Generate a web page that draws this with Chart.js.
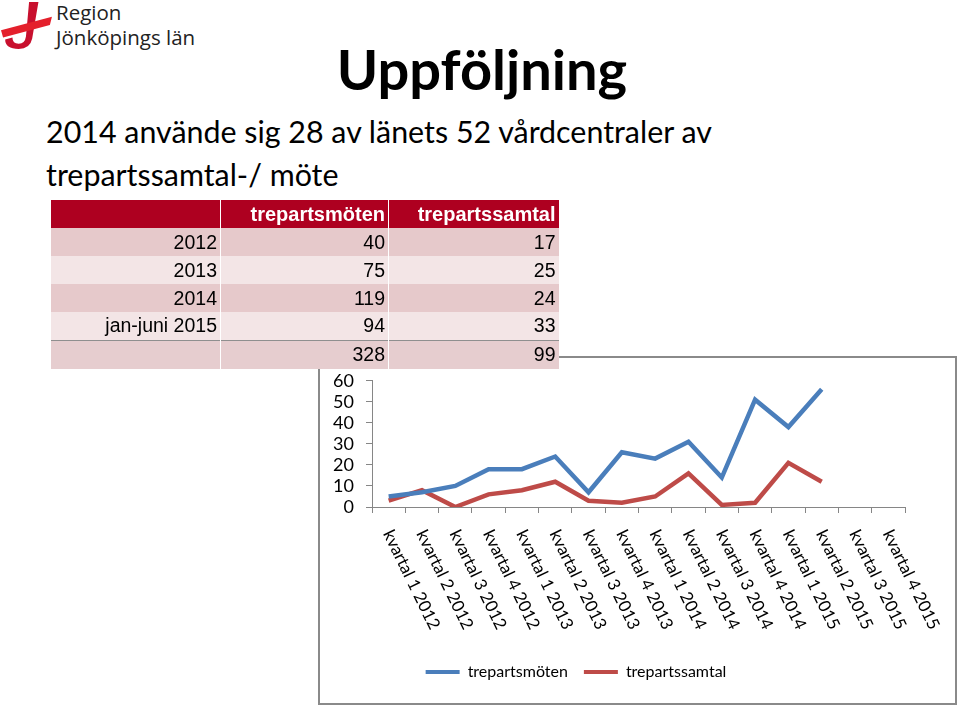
<!DOCTYPE html>
<html lang="sv">
<head>
<meta charset="utf-8">
<title>Uppföljning</title>
<script src="https://cdn.jsdelivr.net/npm/chart.js@4/dist/chart.umd.min.js"></script>
<style>
  html, body { margin: 0; padding: 0; background: #fff; }
  body { width: 960px; height: 706px; position: relative; overflow: hidden; font-family: Lato, sans-serif; color: #000; }
  .logo { position: absolute; left: 1px; top: 1px; width: 52px; height: 50px; }
  .logo-text { position: absolute; left: 56px; top: 0px; font-family: "Open Sans", sans-serif; font-size: 20.5px; line-height: 25px; color: #222; }
  h1 { position: absolute; left: 0; width: 964px; top: 41px; margin: 0; text-align: center; font-size: 56px; line-height: 56px; font-weight: 700; }
  .lead { position: absolute; left: 46px; top: 110px; margin: 0; font-size: 30.4px; line-height: 43px; width: 760px; }
  table { position: absolute; left: 50px; top: 200px; border-collapse: collapse; font-family: "Liberation Sans", Arial, sans-serif; font-size: 19.5px; z-index: 2; }
  td, th { height: 28px; padding: 0 3px; text-align: right; border-left: 1px solid #fff; box-sizing: border-box; }
  th { background: #ae0020; color: #fff; font-weight: 700; font-size: 20px; }
  tr.a td { background: #e6c9cb; }
  tr.b td { background: #f3e5e6; }
  tr.total td { background: #e6cdcf; border-top: 1px solid #8f8f8f; height: 29px; }
  .box { position: absolute; left: 318px; top: 356px; width: 635px; height: 345px; border: 2px solid #8a8a8a; background: #fff; }
  .box div { position: relative; width: 635px; height: 345px; }
</style>
</head>
<body>
<svg class="logo" viewBox="0 0 50 48">
  <path d="M27 1 L36 1 L30 36 Q28 46 17 46 Q4 46 4 37 L11 35 Q11 41 17 41 Q23 41 24 34 Z" fill="#c8102e"/>
  <path d="M0 28 L49 15 L47 23 L2 35 Z" fill="#e4202c"/>
</svg>
<div class="logo-text">Region<br>Jönköpings län</div>

<h1>Uppföljning</h1>
<p class="lead">2014 använde sig 28 av länets 52 vårdcentraler av<br>trepartssamtal-/ möte</p>

<table id="tbl"></table>

<div class="box"><div><canvas id="myChart"></canvas></div></div>

<script>
const categories = [
  'kvartal 1 2012', 'kvartal 2 2012', 'kvartal 3 2012', 'kvartal 4 2012',
  'kvartal 1 2013', 'kvartal 2 2013', 'kvartal 3 2013', 'kvartal 4 2013',
  'kvartal 1 2014', 'kvartal 2 2014', 'kvartal 3 2014', 'kvartal 4 2014',
  'kvartal 1 2015', 'kvartal 2 2015', 'kvartal 3 2015', 'kvartal 4 2015'
];
const moten = [5, 7, 10, 18, 18, 24, 7, 26, 23, 31, 14, 51, 38, 56, null, null];
const samtal = [3, 8, 0, 6, 8, 12, 3, 2, 5, 16, 1, 2, 21, 12, null, null];
const yTicks = [0, 10, 20, 30, 40, 50, 60];

const tableHeads = ['', 'trepartsmöten', 'trepartssamtal'];
const tableRows = ['2012', '2013', '2014', 'jan-juni 2015', ''];
const tableMoten = [40, 75, 119, 94, 328];
const tableSamtal = [17, 25, 24, 33, 99];

(() => {
  'use strict'

  // Table
  const tbl = document.getElementById('tbl')
  const widths = [170, 168, 170]
  let html = '<tr>' + tableHeads.map((h, i) => `<th style="width:${widths[i]}px">${h}</th>`).join('') + '</tr>'
  tableRows.forEach((r, i) => {
    const cls = i === tableRows.length - 1 ? 'total' : (i % 2 === 0 ? 'a' : 'b')
    html += `<tr class="${cls}"><td>${r}</td><td>${tableMoten[i]}</td><td>${tableSamtal[i]}</td></tr>`
  })
  tbl.innerHTML = html

  // slanted category labels, reading downwards to the right
  const slantLabels = {
    id: 'slantLabels',
    afterDraw(chart) {
      const { ctx, scales: { x } } = chart
      ctx.save()
      ctx.font = '17px Lato'
      ctx.fillStyle = '#000'
      ctx.textAlign = 'left'
      ctx.textBaseline = 'middle'
      categories.forEach((label, i) => {
        ctx.save()
        ctx.translate(x.getPixelForValue(i) - 1, x.top + 24)
        ctx.rotate(64 * Math.PI / 180)
        ctx.fillText(label, 0, 0)
        ctx.restore()
      })
      ctx.restore()
    }
  }

  const axisGrey = '#868686'
  const ctx = document.getElementById('myChart')
  // eslint-disable-next-line no-unused-vars
  const myChart = new Chart(ctx, {
    type: 'line',
    data: {
      labels: categories,
      datasets: [{
        label: 'trepartsmöten',
        data: moten,
        borderColor: '#4a7ebb',
        backgroundColor: '#4a7ebb',
        borderWidth: 4.5,
        pointRadius: 0,
        tension: 0
      }, {
        label: 'trepartssamtal',
        data: samtal,
        borderColor: '#be4b48',
        backgroundColor: '#be4b48',
        borderWidth: 4.5,
        pointRadius: 0,
        tension: 0
      }]
    },
    options: {
      responsive: true,
      maintainAspectRatio: false,
      animation: false,
      layout: {
        padding: { left: -73, top: 21, right: 50, bottom: 13 }
      },
      scales: {
        x: {
          offset: true,
          grid: { offset: true, drawOnChartArea: false, color: axisGrey, tickLength: 6 },
          border: { color: axisGrey, width: 1 },
          ticks: { display: false },
          afterFit(axis) { axis.height = 141 }
        },
        y: {
          min: 0,
          max: 60,
          afterBuildTicks(axis) { axis.ticks = yTicks.map(v => ({ value: v })) },
          grid: { drawOnChartArea: false, color: axisGrey, tickLength: 6 },
          border: { color: axisGrey, width: 1 },
          ticks: { color: '#000', padding: 12, autoSkip: false, font: { family: 'Lato', size: 18 } },
          afterFit(axis) { axis.width = 125 }
        }
      },
      plugins: {
        legend: {
          position: 'bottom',
          labels: {
            boxWidth: 34,
            boxHeight: 4,
            padding: 16,
            color: '#000',
            font: { family: 'Lato', size: 16 },
            generateLabels: chart => Chart.defaults.plugins.legend.labels.generateLabels(chart)
              .map(l => Object.assign(l, { lineWidth: 0 }))
          }
        },
        tooltip: { enabled: false }
      }
    },
    plugins: [slantLabels]
  })
})()
</script>
</body>
</html>
